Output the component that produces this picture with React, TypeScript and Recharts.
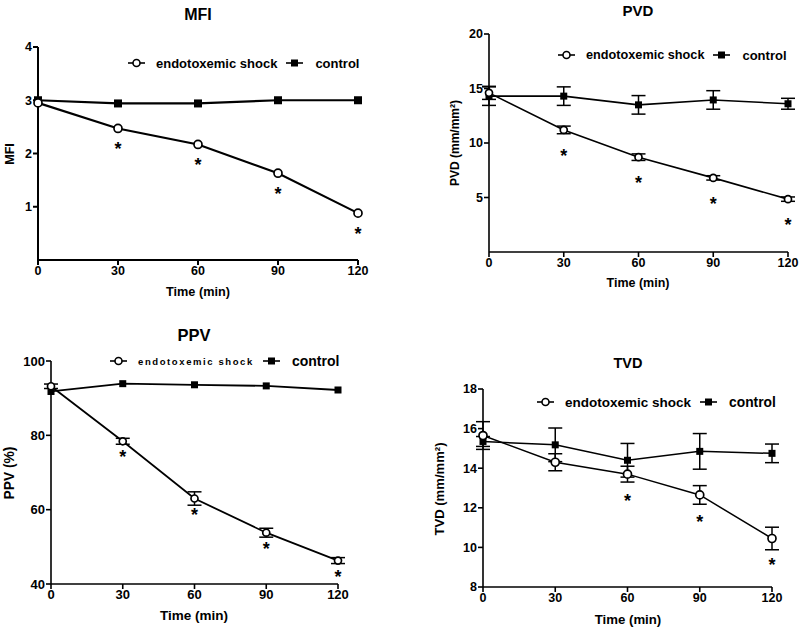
import React from "react";
import { LineChart, Line, XAxis, YAxis, ErrorBar, LabelList, Legend } from "recharts";

const FONT = '"Liberation Sans", Arial, sans-serif';

const times = [0, 30, 60, 90, 120];
const timeTicks = [0, 30, 60, 90, 120];

const mfiShock = [2.95, 2.47, 2.17, 1.63, 0.88];
const mfiControl = [3.0, 2.94, 2.94, 3.0, 3.0];
const mfiSig = [false, true, true, true, true];

const pvdShock = [14.6, 11.2, 8.7, 6.8, 4.85];
const pvdShockErr = [0.6, 0.35, 0.3, 0.2, 0.2];
const pvdControl = [14.3, 14.3, 13.5, 13.95, 13.6];
const pvdControlErr = [0.85, 0.85, 0.85, 0.85, 0.5];
const pvdSig = [false, true, true, true, true];

const ppvShock = [93.2, 78.4, 63.0, 53.8, 46.3];
const ppvShockErr = [0.6, 0.8, 1.8, 1.2, 0.8];
const ppvControl = [91.8, 93.9, 93.6, 93.3, 92.2];
const ppvSig = [false, true, true, true, true];

const tvdShock = [15.65, 14.3, 13.7, 12.65, 10.45];
const tvdShockErr = [0.7, 0.43, 0.4, 0.47, 0.57];
const tvdControl = [15.35, 15.18, 14.4, 14.85, 14.75];
const tvdControlErr = [0.25, 0.85, 0.85, 0.9, 0.47];
const tvdSig = [false, false, true, true, true];

function rows(shock: number[], control: number[], sig: boolean[], shockErr?: number[], controlErr?: number[]) {
  return times.map((t, i) => ({
    time: t,
    shock: shock[i],
    control: control[i],
    shockErr: shockErr ? shockErr[i] : 0,
    controlErr: controlErr ? controlErr[i] : 0,
    sig: sig[i],
  }));
}

const circleDot = (r: number, sw: number) => (p: any) => (
  <circle key={`c-${p.index}`} cx={p.cx} cy={p.cy} r={r} fill="#fff" stroke="#000" strokeWidth={sw} />
);
const squareDot = (s: number) => (p: any) => (
  <rect key={`s-${p.index}`} x={p.cx - s / 2} y={p.cy - s / 2} width={s} height={s} fill="#000" />
);

// asterisk drawn under each significant shock point
const starLabel = (gap: number) => (p: any) => {
  if (!p.value) return null;
  return (
    <text x={p.x} y={p.y + gap + 10} textAnchor="middle" fontSize={18} fontWeight="bold" fontFamily={FONT} fill="#000">
      *
    </text>
  );
};

type LegendCfg = { x: number; y: number; shockSize: number; controlSize: number; shockSpacing?: number };

const legendContent = (cfg: LegendCfg) => () => (
  <div style={{ display: "flex", alignItems: "center", height: 16, fontFamily: FONT, fontWeight: "bold", whiteSpace: "nowrap", color: "#000" }}>
    <svg width={17} height={10}>
      <line x1={0} y1={5} x2={17} y2={5} stroke="#000" strokeWidth={1.6} />
      <circle cx={8.5} cy={5} r={3.5} fill="#fff" stroke="#000" strokeWidth={1.6} />
    </svg>
    <span style={{ marginLeft: 11, fontSize: cfg.shockSize, letterSpacing: cfg.shockSpacing || 0 }}>endotoxemic shock</span>
    <svg width={17} height={10} style={{ marginLeft: 9 }}>
      <line x1={0} y1={5} x2={17} y2={5} stroke="#000" strokeWidth={1.6} />
      <rect x={5} y={1.5} width={7} height={7} fill="#000" />
    </svg>
    <span style={{ marginLeft: 12, fontSize: cfg.controlSize }}>control</span>
  </div>
);

type PanelProps = {
  left: number;
  top: number;
  width: number;
  height: number;
  margin: { top: number; right: number; bottom: number; left: number };
  data: any[];
  yDomain: [number, number];
  yTicks: number[];
  lineWidth: number;
  axisWidth: number;
  tickFont: number;
  dotR: number;
  sq: number;
  starGap: number;
  shockErr: boolean;
  controlErr: boolean;
  legend: LegendCfg;
};

function Panel(p: PanelProps) {
  const tick = { fill: "#000", fontSize: p.tickFont, fontWeight: "bold", fontFamily: FONT };
  return (
    <div style={{ position: "absolute", left: p.left, top: p.top }}>
      <LineChart width={p.width} height={p.height} data={p.data} margin={p.margin}>
        <XAxis
          type="number"
          dataKey="time"
          domain={[0, 120]}
          ticks={timeTicks}
          interval={0}
          height={30}
          tick={tick}
          tickSize={5}
          tickMargin={1}
          axisLine={{ stroke: "#000", strokeWidth: p.axisWidth }}
          tickLine={{ stroke: "#000", strokeWidth: p.axisWidth }}
        />
        <YAxis
          type="number"
          domain={p.yDomain}
          ticks={p.yTicks}
          interval={0}
          width={30}
          tick={tick}
          tickSize={5}
          tickMargin={1}
          axisLine={{ stroke: "#000", strokeWidth: p.axisWidth }}
          tickLine={{ stroke: "#000", strokeWidth: p.axisWidth }}
        />
        <Legend
          layout="horizontal"
          verticalAlign="middle"
          align="center"
          content={legendContent(p.legend)}
          wrapperStyle={{ left: p.legend.x, top: p.legend.y - 8, width: "auto", height: 16 }}
        />
        <Line
          dataKey="control"
          stroke="#000"
          strokeWidth={p.lineWidth}
          dot={squareDot(p.sq)}
          activeDot={false}
          isAnimationActive={false}
        >
          {p.controlErr && <ErrorBar dataKey="controlErr" width={7} stroke="#000" strokeWidth={1.5} direction="y" />}
        </Line>
        <Line
          dataKey="shock"
          stroke="#000"
          strokeWidth={p.lineWidth}
          dot={circleDot(p.dotR, 1.7)}
          activeDot={false}
          isAnimationActive={false}
        >
          {p.shockErr && <ErrorBar dataKey="shockErr" width={7} stroke="#000" strokeWidth={1.5} direction="y" />}
          <LabelList dataKey="sig" content={starLabel(p.starGap)} />
        </Line>
      </LineChart>
    </div>
  );
}

const Txt = ({ x, y, size, rotate, children }: any) => (
  <div
    style={{
      position: "absolute",
      left: x,
      top: y,
      transform: `translate(-50%, -50%)${rotate ? " rotate(-90deg)" : ""}`,
      fontFamily: FONT,
      fontWeight: "bold",
      fontSize: size,
      whiteSpace: "nowrap",
      color: "#000",
      lineHeight: 1,
    }}
  >
    {children}
  </div>
);

export default function App() {
  return (
    <div style={{ position: "absolute", left: 0, top: 0, width: 800, height: 630, background: "#fff", overflow: "hidden" }}>
      <Panel
        left={0}
        top={0}
        width={400}
        height={310}
        margin={{ top: 47, right: 42, bottom: 20, left: 8 }}
        data={rows(mfiShock, mfiControl, mfiSig)}
        yDomain={[0, 4]}
        yTicks={[1, 2, 3, 4]}
        lineWidth={2.2}
        axisWidth={2}
        tickFont={12.5}
        dotR={4}
        sq={8}
        starGap={17}
        shockErr={false}
        controlErr={false}
        legend={{ x: 128, y: 63, shockSize: 13, controlSize: 13 }}
      />
      <Panel
        left={400}
        top={0}
        width={400}
        height={310}
        margin={{ top: 34, right: 12, bottom: 28, left: 59 }}
        data={rows(pvdShock, pvdControl, pvdSig, pvdShockErr, pvdControlErr)}
        yDomain={[0, 20]}
        yTicks={[5, 10, 15, 20]}
        lineWidth={1.6}
        axisWidth={1.6}
        tickFont={12.5}
        dotR={3.5}
        sq={7}
        starGap={22}
        shockErr={true}
        controlErr={true}
        legend={{ x: 158, y: 55, shockSize: 12.7, controlSize: 13 }}
      />
      <Panel
        left={0}
        top={310}
        width={400}
        height={320}
        margin={{ top: 51, right: 62, bottom: 16, left: 21 }}
        data={rows(ppvShock, ppvControl, ppvSig, ppvShockErr)}
        yDomain={[40, 100]}
        yTicks={[40, 60, 80, 100]}
        lineWidth={1.8}
        axisWidth={1.6}
        tickFont={13}
        dotR={3.5}
        sq={7}
        starGap={12}
        shockErr={true}
        controlErr={false}
        legend={{ x: 110, y: 51, shockSize: 9.5, controlSize: 14, shockSpacing: 1.6 }}
      />
      <Panel
        left={400}
        top={310}
        width={400}
        height={320}
        margin={{ top: 79, right: 28, bottom: 13, left: 53 }}
        data={rows(tvdShock, tvdControl, tvdSig, tvdShockErr, tvdControlErr)}
        yDomain={[8, 18]}
        yTicks={[8, 10, 12, 14, 16, 18]}
        lineWidth={1.5}
        axisWidth={1.6}
        tickFont={12.5}
        dotR={4}
        sq={7}
        starGap={23}
        shockErr={true}
        controlErr={true}
        legend={{ x: 137, y: 92, shockSize: 13.5, controlSize: 13.8 }}
      />

      <Txt x={198} y={15} size={16}>MFI</Txt>
      <Txt x={10} y={154} size={12.6} rotate>MFI</Txt>
      <Txt x={198} y={292} size={12.7}>Time (min)</Txt>

      <Txt x={638} y={10} size={15}>PVD</Txt>
      <Txt x={455} y={143} size={12} rotate>PVD (mm/mm²)</Txt>
      <Txt x={638} y={283} size={12.5}>Time (min)</Txt>

      <Txt x={194} y={335} size={16.5}>PPV</Txt>
      <Txt x={10} y={473} size={13.8} rotate>PPV (%)</Txt>
      <Txt x={194} y={616} size={13.5}>Time (min)</Txt>

      <Txt x={628} y={363} size={14.5}>TVD</Txt>
      <Txt x={440} y={489} size={13.1} rotate>TVD (mm/mm²)</Txt>
      <Txt x={628} y={620} size={13.2}>Time (min)</Txt>
    </div>
  );
}
